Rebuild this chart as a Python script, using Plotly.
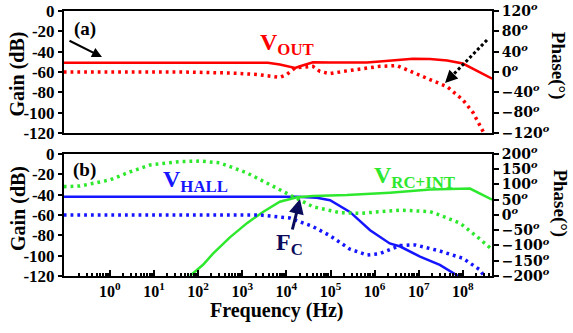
import plotly.graph_objects as go

# ---------------- data ----------------
# (a) V_OUT
vout_gain_f = [0.09, 3800, 7100, 15800, 20400, 40000, 98000, 670000, 1.3e6, 3.2e6,
               7.4e6, 1.8e7, 4.4e7, 1.0e8, 1.9e8, 4.6e8]
vout_gain = [-51, -51, -52.7, -56, -54.4, -50.5, -50.7, -50.7, -49.8, -48.5,
             -47, -47.3, -48.8, -51.7, -57.7, -66.6]
vout_phase_f = [0.09, 39, 525, 2140, 7080, 10200, 15800, 39800, 57500, 97700,
                1.9e5, 4.7e5, 1.3e6, 3.2e6, 7.4e6, 1.8e7, 4.4e7, 1.0e8, 1.7e8, 2.75e8, 3.2e8]
vout_phase = [0, 0, -2, -5, -10.7, -5, 8, 11, 1, -3.4,
              1, 6, 11, 12.5, -1.4, -15, -29, -55, -80, -114, -125]

# (b) V_HALL
hall_gain_f = [0.09, 17400, 49000, 97700, 2.75e5, 7.9e5, 2.2e6, 3.8e6, 1.07e7, 3.0e7, 7.8e7, 1.2e8]
hall_gain = [-42, -42, -43, -45.5, -57, -75, -88, -91, -101, -109, -120, -126]
hall_phase_f = [0.09, 2500, 12000, 40000, 97700, 2.75e5, 6.7e5, 1.3e6, 3.8e6, 8.3e6,
                3.0e7, 1.0e8, 2.45e8, 2.9e8, 3.5e8]
hall_phase = [0, 0, -10, -38, -68, -112, -131, -127, -100, -98,
              -118, -142, -180, -200, -215]

# (b) V_RC+INT
rc_gain_f = [65, 129, 217, 525, 1280, 2950, 7100, 17400, 40000, 2.35e5, 2.2e6, 1.8e7, 1.45e8, 4.6e8]
rc_gain = [-120, -109, -98, -82, -68, -57, -47, -42.6, -41.3, -40.3, -38, -35, -34, -45]
rc_phase_f = [0.09, 0.21, 1, 2.8, 8.1, 39, 110, 310, 1280, 5000, 12000, 40000,
              1.65e5, 4.7e5, 3.8e6, 1.8e7, 3.0e7, 8.7e7, 2.1e8, 4.2e8, 5.0e8]
rc_phase = [93, 95, 115, 141, 164, 175, 177, 171, 138, 93, 66, 27,
            7.5, 5.5, 16, 11, 0, -27, -71, -108, -118]

# tick labels
x_tickvals = [1, 10, 100, 1e3, 1e4, 1e5, 1e6, 1e7, 1e8]
x_ticktext = ["10<sup>%d</sup>" % i for i in range(9)]
gain_tickvals = [0, -20, -40, -60, -80, -100, -120]
gain_ticktext = ["0", "-20", "-40", "-60", "-80", "-100", "-120"]
ph_a_tickvals = [120, 80, 40, 0, -40, -80, -120]
ph_a_ticktext = ["120<sup><i>o</i></sup>", "80<sup><i>o</i></sup>", "40<sup><i>o</i></sup>",
                 "0<sup><i>o</i></sup>", "\u221240<sup><i>o</i></sup>", "\u221280<sup><i>o</i></sup>",
                 "\u2212120<sup><i>o</i></sup>"]
ph_b_tickvals = [200, 150, 100, 50, 0, -50, -100, -150, -200]
ph_b_ticktext = ["200<sup><i>o</i></sup>", "150<sup><i>o</i></sup>", "100<sup><i>o</i></sup>",
                 "50<sup><i>o</i></sup>", "0<sup><i>o</i></sup>", "\u221250<sup><i>o</i></sup>",
                 "\u2212100<sup><i>o</i></sup>", "\u2212150<sup><i>o</i></sup>", "\u2212200<sup><i>o</i></sup>"]

RED = "#ff0000"
BLUE = "#1515ff"
GREEN = "#2ee82e"
NAVY = "#0b0b5c"
SERIF = "Liberation Serif"
DOT = "2.8px,4px"

fig = go.Figure()
fig.add_trace(go.Scatter(x=vout_gain_f, y=vout_gain, mode="lines",
                         line=dict(color=RED, width=2.5), xaxis="x", yaxis="y"))
fig.add_trace(go.Scatter(x=vout_phase_f, y=vout_phase, mode="lines",
                         line=dict(color=RED, width=3.5, dash=DOT), xaxis="x", yaxis="y2"))
fig.add_trace(go.Scatter(x=hall_gain_f, y=hall_gain, mode="lines",
                         line=dict(color=BLUE, width=2.5), xaxis="x2", yaxis="y3"))
fig.add_trace(go.Scatter(x=rc_gain_f, y=rc_gain, mode="lines",
                         line=dict(color=GREEN, width=2.5), xaxis="x2", yaxis="y3"))
fig.add_trace(go.Scatter(x=hall_phase_f, y=hall_phase, mode="lines",
                         line=dict(color=BLUE, width=3.5, dash=DOT), xaxis="x2", yaxis="y4"))
fig.add_trace(go.Scatter(x=rc_phase_f, y=rc_phase, mode="lines",
                         line=dict(color=GREEN, width=3.5, dash=DOT), xaxis="x2", yaxis="y4"))

minor_vals = [m * 10 ** e for e in range(-2, 9) for m in range(2, 10)]

tickfont = dict(family=SERIF, size=17, color="black", weight="bold")
phfont = dict(family="DejaVu Serif", size=14, color="black", weight="bold")
xrange_ = [-1.04, 8.66]

common_x = dict(type="log", range=xrange_, showline=True, linecolor="black", linewidth=2,
                mirror=True, showgrid=False, zeroline=False, automargin=False)
common_y = dict(showline=True, linecolor="black", linewidth=2, ticks="outside",
                tickwidth=2, tickcolor="black", showgrid=False, zeroline=False, automargin=False)
fig.update_layout(
    width=573, height=333,
    margin=dict(l=64, r=81, t=11, b=57, autoexpand=False),
    paper_bgcolor="white", plot_bgcolor="white",
    showlegend=False,
    xaxis=dict(**common_x, domain=[0, 1], anchor="y", showticklabels=False, ticks=""),
    xaxis2=dict(**common_x, domain=[0, 1], anchor="y3", matches="x",
                tickvals=x_tickvals, ticktext=x_ticktext, ticks="inside", ticklen=6,
                tickwidth=2, tickcolor="black", tickfont=dict(family=SERIF, size=16, color="black", weight="bold"),
                minor=dict(tickvals=minor_vals, ticks="inside", ticklen=3, tickwidth=1.5,
                           tickcolor="black", showgrid=False)),
    yaxis=dict(**common_y, domain=[0.54, 1], range=[-120, 0], tickvals=gain_tickvals,
               ticktext=gain_ticktext, ticklen=4, tickfont=tickfont, anchor="x"),
    yaxis2=dict(**common_y, range=[-120, 120], overlaying="y", side="right", anchor="x",
                tickvals=ph_a_tickvals, ticktext=ph_a_ticktext, ticklen=5, tickfont=phfont),
    yaxis3=dict(**common_y, domain=[0, 0.4604], range=[-120, 0], tickvals=gain_tickvals,
                ticktext=gain_ticktext, ticklen=4, tickfont=tickfont, anchor="x2"),
    yaxis4=dict(**common_y, range=[-200, 200], overlaying="y3", side="right", anchor="x2",
                tickvals=ph_b_tickvals, ticktext=ph_b_ticktext, ticklen=5, tickfont=phfont),
)

def txt(x, y, text, size, color="black", angle=0):
    fig.add_annotation(x=x, y=y, xref="paper", yref="paper", text=text, showarrow=False,
                       textangle=angle, xanchor="center", yanchor="middle",
                       font=dict(family=SERIF, size=size, color=color, weight="bold"))

# axis titles
txt(-0.1086, 0.762, "Gain (dB)", 20, angle=-90)
txt(-0.105, 0.253, "Gain (dB)", 20, angle=-90)
txt(1.155, 0.792, "Phase(°)", 19, angle=90)
txt(1.160, 0.272, "Phase(°)", 19, angle=90)
txt(0.4977, -0.132, "Frequency (Hz)", 20)

# labels
txt(0.049, 0.932, "(a)", 19)
txt(0.049, 0.40, "(b)", 19)
txt(0.521, 0.877, "V<sub>OUT</sub>", 24, RED)
txt(0.308, 0.357, "V<sub>HALL</sub>", 24, BLUE)
txt(0.818, 0.375, "V<sub>RC+INT</sub>", 24, GREEN)
txt(0.528, 0.119, "F<sub>C</sub>", 24, NAVY)

# arrows
fig.add_annotation(x=0.0888, y=0.8264, xref="paper", yref="paper", ax=-34, ay=-17,
                   showarrow=True, arrowhead=2, arrowsize=1, arrowwidth=2, arrowcolor="black", text="")
fig.add_shape(type="line", xref="paper", yref="paper", x0=0.9883, y0=0.8906, x1=0.8995, y1=0.7434,
              line=dict(color="black", width=3, dash="3px,2.5px"))
fig.add_annotation(x=0.8902, y=0.7283, xref="paper", yref="paper", ax=8, ay=-8,
                   showarrow=True, arrowhead=2, arrowsize=1, arrowwidth=2.5, arrowcolor="black", text="")
fig.add_annotation(x=0.5514, y=0.2906, xref="paper", yref="paper", ax=-8, ay=32,
                   showarrow=True, arrowhead=2, arrowsize=1, arrowwidth=3, arrowcolor=NAVY, text="")

fig.write_html("out.html", config={"displayModeBar": False},
               post_script="document.body.style.margin='0px';")
